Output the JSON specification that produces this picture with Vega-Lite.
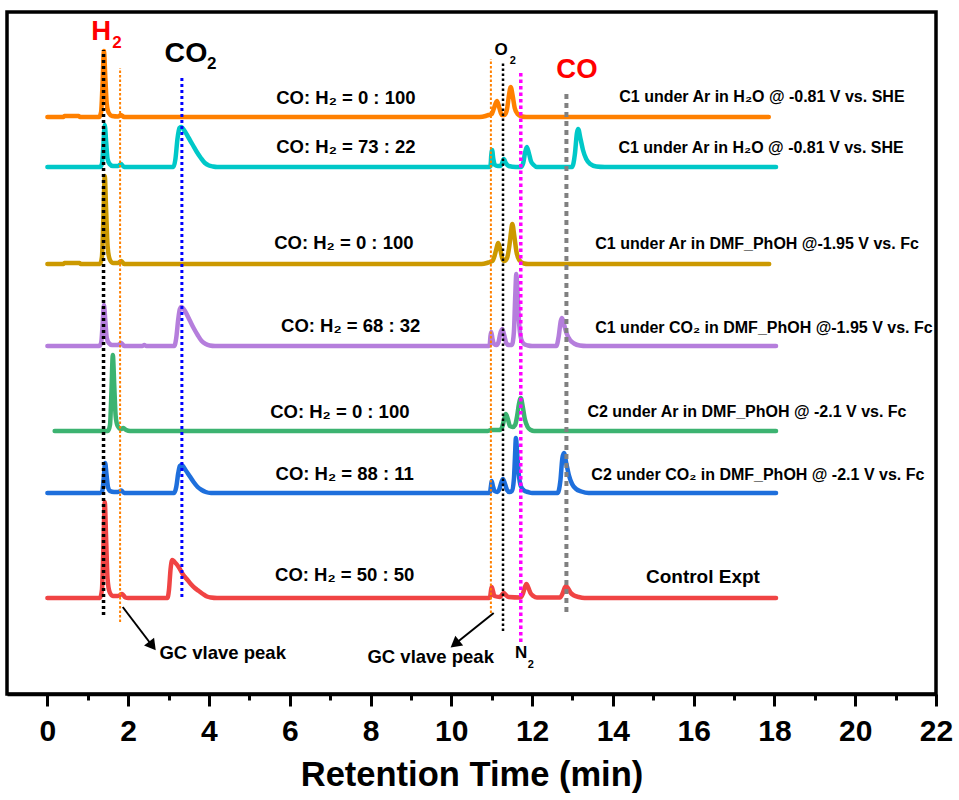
{
  "$schema": "https://vega.github.io/schema/vega-lite/v6.json",
  "width": 929,
  "height": 682,
  "padding": {"left": 7, "top": 12, "right": 12, "bottom": 4},
  "background": "white",
  "config": {
    "font": "Liberation Sans",
    "view": {"stroke": "black", "strokeWidth": 3.5}
  },
  "datasets": {
    "traces": [
      {"series": "orange", "t": 0, "v": 577}, {"series": "orange", "t": 0.4, "v": 577}, {"series": "orange", "t": 0.42, "v": 578}, {"series": "orange", "t": 0.78, "v": 578}, {"series": "orange", "t": 0.8, "v": 577},
      {"series": "orange", "t": 1.28, "v": 577}, {"series": "orange", "t": 1.33, "v": 582}, {"series": "orange", "t": 1.365, "v": 610}, {"series": "orange", "t": 1.4, "v": 643}, {"series": "orange", "t": 1.435, "v": 616}, {"series": "orange", "t": 1.47, "v": 590}, {"series": "orange", "t": 1.52, "v": 581}, {"series": "orange", "t": 1.6, "v": 578}, {"series": "orange", "t": 1.75, "v": 577.5}, {"series": "orange", "t": 1.82, "v": 579}, {"series": "orange", "t": 1.9, "v": 577},
      {"series": "orange", "t": 10.7, "v": 577}, {"series": "orange", "t": 10.85, "v": 578}, {"series": "orange", "t": 10.92, "v": 579}, {"series": "orange", "t": 11.0, "v": 580}, {"series": "orange", "t": 11.05, "v": 585}, {"series": "orange", "t": 11.13, "v": 593}, {"series": "orange", "t": 11.19, "v": 586}, {"series": "orange", "t": 11.25, "v": 579}, {"series": "orange", "t": 11.32, "v": 579}, {"series": "orange", "t": 11.38, "v": 585}, {"series": "orange", "t": 11.425, "v": 598}, {"series": "orange", "t": 11.47, "v": 607}, {"series": "orange", "t": 11.52, "v": 598}, {"series": "orange", "t": 11.57, "v": 586}, {"series": "orange", "t": 11.64, "v": 580}, {"series": "orange", "t": 11.75, "v": 577.5}, {"series": "orange", "t": 11.85, "v": 577}, {"series": "orange", "t": 17.86, "v": 577},

      {"series": "cyan", "t": 0, "v": 527}, {"series": "cyan", "t": 1.3, "v": 527}, {"series": "cyan", "t": 1.35, "v": 530}, {"series": "cyan", "t": 1.385, "v": 548}, {"series": "cyan", "t": 1.42, "v": 569}, {"series": "cyan", "t": 1.455, "v": 552}, {"series": "cyan", "t": 1.49, "v": 535}, {"series": "cyan", "t": 1.54, "v": 530}, {"series": "cyan", "t": 1.62, "v": 528}, {"series": "cyan", "t": 1.75, "v": 528}, {"series": "cyan", "t": 1.82, "v": 530}, {"series": "cyan", "t": 1.9, "v": 527},
      {"series": "cyan", "t": 3.12, "v": 527}, {"series": "cyan", "t": 3.17, "v": 535}, {"series": "cyan", "t": 3.22, "v": 555}, {"series": "cyan", "t": 3.27, "v": 566}, {"series": "cyan", "t": 3.31, "v": 567}, {"series": "cyan", "t": 3.4, "v": 563}, {"series": "cyan", "t": 3.5, "v": 556}, {"series": "cyan", "t": 3.6, "v": 549}, {"series": "cyan", "t": 3.7, "v": 542}, {"series": "cyan", "t": 3.8, "v": 536}, {"series": "cyan", "t": 3.9, "v": 531}, {"series": "cyan", "t": 4.0, "v": 528.5}, {"series": "cyan", "t": 4.1, "v": 527.5}, {"series": "cyan", "t": 4.2, "v": 527},
      {"series": "cyan", "t": 10.94, "v": 527}, {"series": "cyan", "t": 10.97, "v": 528}, {"series": "cyan", "t": 10.99, "v": 539}, {"series": "cyan", "t": 11.01, "v": 544}, {"series": "cyan", "t": 11.04, "v": 535}, {"series": "cyan", "t": 11.08, "v": 529}, {"series": "cyan", "t": 11.15, "v": 528}, {"series": "cyan", "t": 11.22, "v": 528}, {"series": "cyan", "t": 11.26, "v": 531}, {"series": "cyan", "t": 11.3, "v": 535}, {"series": "cyan", "t": 11.35, "v": 531}, {"series": "cyan", "t": 11.42, "v": 528}, {"series": "cyan", "t": 11.6, "v": 527},
      {"series": "cyan", "t": 11.72, "v": 527}, {"series": "cyan", "t": 11.78, "v": 531}, {"series": "cyan", "t": 11.825, "v": 541}, {"series": "cyan", "t": 11.87, "v": 547}, {"series": "cyan", "t": 11.92, "v": 541}, {"series": "cyan", "t": 11.97, "v": 533}, {"series": "cyan", "t": 12.04, "v": 529}, {"series": "cyan", "t": 12.12, "v": 527},
      {"series": "cyan", "t": 12.99, "v": 527}, {"series": "cyan", "t": 13.06, "v": 540}, {"series": "cyan", "t": 13.11, "v": 561}, {"series": "cyan", "t": 13.14, "v": 565}, {"series": "cyan", "t": 13.2, "v": 555}, {"series": "cyan", "t": 13.26, "v": 544}, {"series": "cyan", "t": 13.34, "v": 535}, {"series": "cyan", "t": 13.44, "v": 530}, {"series": "cyan", "t": 13.59, "v": 527.5}, {"series": "cyan", "t": 13.8, "v": 527}, {"series": "cyan", "t": 18.04, "v": 527},

      {"series": "gold", "t": 0, "v": 430}, {"series": "gold", "t": 0.4, "v": 430}, {"series": "gold", "t": 0.42, "v": 431}, {"series": "gold", "t": 0.8, "v": 431}, {"series": "gold", "t": 0.82, "v": 430},
      {"series": "gold", "t": 1.3, "v": 430}, {"series": "gold", "t": 1.35, "v": 437}, {"series": "gold", "t": 1.385, "v": 474}, {"series": "gold", "t": 1.42, "v": 518}, {"series": "gold", "t": 1.455, "v": 483}, {"series": "gold", "t": 1.49, "v": 448}, {"series": "gold", "t": 1.54, "v": 435}, {"series": "gold", "t": 1.62, "v": 431}, {"series": "gold", "t": 1.75, "v": 431}, {"series": "gold", "t": 1.83, "v": 433}, {"series": "gold", "t": 1.9, "v": 430},
      {"series": "gold", "t": 10.75, "v": 430}, {"series": "gold", "t": 10.88, "v": 431}, {"series": "gold", "t": 10.95, "v": 432}, {"series": "gold", "t": 11.02, "v": 433}, {"series": "gold", "t": 11.07, "v": 438}, {"series": "gold", "t": 11.115, "v": 445}, {"series": "gold", "t": 11.16, "v": 451}, {"series": "gold", "t": 11.21, "v": 445}, {"series": "gold", "t": 11.26, "v": 436}, {"series": "gold", "t": 11.31, "v": 433}, {"series": "gold", "t": 11.38, "v": 436}, {"series": "gold", "t": 11.44, "v": 449}, {"series": "gold", "t": 11.475, "v": 461}, {"series": "gold", "t": 11.51, "v": 470}, {"series": "gold", "t": 11.56, "v": 458}, {"series": "gold", "t": 11.61, "v": 443}, {"series": "gold", "t": 11.68, "v": 434}, {"series": "gold", "t": 11.8, "v": 430.5}, {"series": "gold", "t": 11.9, "v": 430}, {"series": "gold", "t": 17.87, "v": 430},

      {"series": "purple", "t": 0, "v": 348}, {"series": "purple", "t": 1.28, "v": 348}, {"series": "purple", "t": 1.33, "v": 351}, {"series": "purple", "t": 1.365, "v": 368}, {"series": "purple", "t": 1.4, "v": 389}, {"series": "purple", "t": 1.435, "v": 373}, {"series": "purple", "t": 1.47, "v": 356}, {"series": "purple", "t": 1.52, "v": 351}, {"series": "purple", "t": 1.6, "v": 349}, {"series": "purple", "t": 1.75, "v": 349}, {"series": "purple", "t": 1.83, "v": 351}, {"series": "purple", "t": 1.9, "v": 348}, {"series": "purple", "t": 2.35, "v": 348}, {"series": "purple", "t": 2.4, "v": 349}, {"series": "purple", "t": 2.45, "v": 348},
      {"series": "purple", "t": 3.14, "v": 348}, {"series": "purple", "t": 3.19, "v": 356}, {"series": "purple", "t": 3.24, "v": 375}, {"series": "purple", "t": 3.28, "v": 385}, {"series": "purple", "t": 3.32, "v": 387}, {"series": "purple", "t": 3.42, "v": 382}, {"series": "purple", "t": 3.52, "v": 374}, {"series": "purple", "t": 3.62, "v": 366}, {"series": "purple", "t": 3.72, "v": 359}, {"series": "purple", "t": 3.82, "v": 353}, {"series": "purple", "t": 3.92, "v": 350}, {"series": "purple", "t": 4.02, "v": 348.5}, {"series": "purple", "t": 4.15, "v": 348},
      {"series": "purple", "t": 10.93, "v": 348}, {"series": "purple", "t": 10.95, "v": 349}, {"series": "purple", "t": 10.97, "v": 358}, {"series": "purple", "t": 10.99, "v": 362}, {"series": "purple", "t": 11.02, "v": 355}, {"series": "purple", "t": 11.06, "v": 350}, {"series": "purple", "t": 11.12, "v": 349}, {"series": "purple", "t": 11.17, "v": 352}, {"series": "purple", "t": 11.21, "v": 360}, {"series": "purple", "t": 11.26, "v": 365}, {"series": "purple", "t": 11.31, "v": 359}, {"series": "purple", "t": 11.36, "v": 351}, {"series": "purple", "t": 11.42, "v": 349}, {"series": "purple", "t": 11.5, "v": 349}, {"series": "purple", "t": 11.55, "v": 362}, {"series": "purple", "t": 11.58, "v": 395}, {"series": "purple", "t": 11.61, "v": 420}, {"series": "purple", "t": 11.64, "v": 400}, {"series": "purple", "t": 11.68, "v": 370}, {"series": "purple", "t": 11.73, "v": 355}, {"series": "purple", "t": 11.8, "v": 350}, {"series": "purple", "t": 11.9, "v": 348.5}, {"series": "purple", "t": 12.0, "v": 348},
      {"series": "purple", "t": 12.6, "v": 348}, {"series": "purple", "t": 12.66, "v": 358}, {"series": "purple", "t": 12.71, "v": 373}, {"series": "purple", "t": 12.74, "v": 376}, {"series": "purple", "t": 12.8, "v": 368}, {"series": "purple", "t": 12.86, "v": 360}, {"series": "purple", "t": 12.94, "v": 354}, {"series": "purple", "t": 13.04, "v": 350.5}, {"series": "purple", "t": 13.18, "v": 348.5}, {"series": "purple", "t": 13.35, "v": 348}, {"series": "purple", "t": 18.04, "v": 348},

      {"series": "green", "t": 0.18, "v": 263}, {"series": "green", "t": 1.5, "v": 263}, {"series": "green", "t": 1.55, "v": 269}, {"series": "green", "t": 1.585, "v": 301}, {"series": "green", "t": 1.62, "v": 339}, {"series": "green", "t": 1.655, "v": 309}, {"series": "green", "t": 1.69, "v": 278}, {"series": "green", "t": 1.74, "v": 268}, {"series": "green", "t": 1.82, "v": 265}, {"series": "green", "t": 1.88, "v": 266}, {"series": "green", "t": 1.95, "v": 264}, {"series": "green", "t": 2.05, "v": 263},
      {"series": "green", "t": 10.9, "v": 263}, {"series": "green", "t": 10.98, "v": 264}, {"series": "green", "t": 11.2, "v": 264}, {"series": "green", "t": 11.26, "v": 267}, {"series": "green", "t": 11.305, "v": 274}, {"series": "green", "t": 11.35, "v": 280}, {"series": "green", "t": 11.4, "v": 275}, {"series": "green", "t": 11.45, "v": 268}, {"series": "green", "t": 11.52, "v": 267}, {"series": "green", "t": 11.58, "v": 269}, {"series": "green", "t": 11.63, "v": 278}, {"series": "green", "t": 11.675, "v": 290}, {"series": "green", "t": 11.72, "v": 296}, {"series": "green", "t": 11.77, "v": 287}, {"series": "green", "t": 11.82, "v": 275}, {"series": "green", "t": 11.89, "v": 267}, {"series": "green", "t": 11.97, "v": 264}, {"series": "green", "t": 12.05, "v": 263}, {"series": "green", "t": 18.04, "v": 263},

      {"series": "blue", "t": 0, "v": 201}, {"series": "blue", "t": 1.31, "v": 201}, {"series": "blue", "t": 1.36, "v": 203}, {"series": "blue", "t": 1.395, "v": 216}, {"series": "blue", "t": 1.43, "v": 231}, {"series": "blue", "t": 1.465, "v": 219}, {"series": "blue", "t": 1.5, "v": 207}, {"series": "blue", "t": 1.55, "v": 203}, {"series": "blue", "t": 1.65, "v": 202}, {"series": "blue", "t": 1.75, "v": 202}, {"series": "blue", "t": 1.83, "v": 203.5}, {"series": "blue", "t": 1.9, "v": 201},
      {"series": "blue", "t": 3.14, "v": 201}, {"series": "blue", "t": 3.19, "v": 207}, {"series": "blue", "t": 3.24, "v": 221}, {"series": "blue", "t": 3.28, "v": 228}, {"series": "blue", "t": 3.32, "v": 229}, {"series": "blue", "t": 3.42, "v": 224}, {"series": "blue", "t": 3.52, "v": 218}, {"series": "blue", "t": 3.62, "v": 212}, {"series": "blue", "t": 3.72, "v": 207}, {"series": "blue", "t": 3.82, "v": 204}, {"series": "blue", "t": 3.92, "v": 202}, {"series": "blue", "t": 4.05, "v": 201},
      {"series": "blue", "t": 10.94, "v": 201}, {"series": "blue", "t": 10.96, "v": 202}, {"series": "blue", "t": 10.985, "v": 209}, {"series": "blue", "t": 11.0, "v": 213}, {"series": "blue", "t": 11.03, "v": 208}, {"series": "blue", "t": 11.07, "v": 203}, {"series": "blue", "t": 11.14, "v": 202}, {"series": "blue", "t": 11.19, "v": 205}, {"series": "blue", "t": 11.235, "v": 211}, {"series": "blue", "t": 11.28, "v": 215}, {"series": "blue", "t": 11.33, "v": 210}, {"series": "blue", "t": 11.38, "v": 204}, {"series": "blue", "t": 11.44, "v": 202}, {"series": "blue", "t": 11.5, "v": 203}, {"series": "blue", "t": 11.55, "v": 215}, {"series": "blue", "t": 11.575, "v": 236}, {"series": "blue", "t": 11.6, "v": 256}, {"series": "blue", "t": 11.63, "v": 241}, {"series": "blue", "t": 11.67, "v": 220}, {"series": "blue", "t": 11.72, "v": 208}, {"series": "blue", "t": 11.8, "v": 203.5}, {"series": "blue", "t": 11.9, "v": 202}, {"series": "blue", "t": 12.0, "v": 201},
      {"series": "blue", "t": 12.63, "v": 201}, {"series": "blue", "t": 12.7, "v": 213}, {"series": "blue", "t": 12.75, "v": 236}, {"series": "blue", "t": 12.79, "v": 241}, {"series": "blue", "t": 12.85, "v": 230}, {"series": "blue", "t": 12.91, "v": 219}, {"series": "blue", "t": 12.99, "v": 210}, {"series": "blue", "t": 13.09, "v": 205}, {"series": "blue", "t": 13.22, "v": 202.5}, {"series": "blue", "t": 13.4, "v": 201}, {"series": "blue", "t": 18.04, "v": 201},

      {"series": "red", "t": 0, "v": 96}, {"series": "red", "t": 1.3, "v": 96}, {"series": "red", "t": 1.35, "v": 104}, {"series": "red", "t": 1.385, "v": 144}, {"series": "red", "t": 1.42, "v": 192}, {"series": "red", "t": 1.455, "v": 154}, {"series": "red", "t": 1.49, "v": 115}, {"series": "red", "t": 1.54, "v": 102}, {"series": "red", "t": 1.62, "v": 98}, {"series": "red", "t": 1.75, "v": 98}, {"series": "red", "t": 1.85, "v": 100}, {"series": "red", "t": 1.93, "v": 96.5}, {"series": "red", "t": 2.0, "v": 96},
      {"series": "red", "t": 2.97, "v": 96}, {"series": "red", "t": 3.01, "v": 104}, {"series": "red", "t": 3.05, "v": 125}, {"series": "red", "t": 3.09, "v": 134}, {"series": "red", "t": 3.15, "v": 132}, {"series": "red", "t": 3.25, "v": 127}, {"series": "red", "t": 3.35, "v": 120}, {"series": "red", "t": 3.45, "v": 115}, {"series": "red", "t": 3.55, "v": 110}, {"series": "red", "t": 3.65, "v": 106}, {"series": "red", "t": 3.75, "v": 103}, {"series": "red", "t": 3.85, "v": 100}, {"series": "red", "t": 3.95, "v": 97.5}, {"series": "red", "t": 4.05, "v": 96.5}, {"series": "red", "t": 4.2, "v": 96},
      {"series": "red", "t": 10.94, "v": 96}, {"series": "red", "t": 10.96, "v": 97}, {"series": "red", "t": 10.985, "v": 104}, {"series": "red", "t": 11.0, "v": 107}, {"series": "red", "t": 11.03, "v": 103}, {"series": "red", "t": 11.07, "v": 98}, {"series": "red", "t": 11.2, "v": 97}, {"series": "red", "t": 11.25, "v": 99}, {"series": "red", "t": 11.3, "v": 101}, {"series": "red", "t": 11.35, "v": 99}, {"series": "red", "t": 11.42, "v": 97}, {"series": "red", "t": 11.71, "v": 96.5}, {"series": "red", "t": 11.77, "v": 100}, {"series": "red", "t": 11.815, "v": 106}, {"series": "red", "t": 11.86, "v": 110}, {"series": "red", "t": 11.91, "v": 106}, {"series": "red", "t": 11.96, "v": 101}, {"series": "red", "t": 12.03, "v": 98}, {"series": "red", "t": 12.12, "v": 96.5},
      {"series": "red", "t": 12.69, "v": 96.5}, {"series": "red", "t": 12.76, "v": 101}, {"series": "red", "t": 12.81, "v": 106.5}, {"series": "red", "t": 12.84, "v": 108}, {"series": "red", "t": 12.9, "v": 105}, {"series": "red", "t": 12.96, "v": 101}, {"series": "red", "t": 13.04, "v": 98.5}, {"series": "red", "t": 13.15, "v": 97}, {"series": "red", "t": 13.3, "v": 96}, {"series": "red", "t": 18.04, "v": 96}
    ],
    "vlines": [
      {"name": "H2", "t": 1.39, "y1": 79, "y2": 644},
      {"name": "valve1", "t": 1.8, "y1": 72, "y2": 626},
      {"name": "CO2", "t": 3.33, "y1": 97, "y2": 618},
      {"name": "valve2", "t": 10.98, "y1": 81, "y2": 635},
      {"name": "O2", "t": 11.28, "y1": 63, "y2": 633},
      {"name": "N2", "t": 11.72, "y1": 52, "y2": 624},
      {"name": "CO", "t": 12.85, "y1": 82, "y2": 601}
    ],
    "labels": [
      {"kind": "ratio", "text": "CO: H₂ = 0 : 100", "t": 7.39, "v": 596},
      {"kind": "ratio", "text": "CO: H₂ = 73 : 22", "t": 7.39, "v": 547},
      {"kind": "ratio", "text": "CO: H₂ = 0 : 100", "t": 7.34, "v": 451},
      {"kind": "ratio", "text": "CO: H₂ =  68 : 32", "t": 7.51, "v": 368},
      {"kind": "ratio", "text": "CO: H₂ = 0 : 100", "t": 7.24, "v": 282},
      {"kind": "ratio", "text": "CO: H₂ = 88 : 11", "t": 7.36, "v": 220},
      {"kind": "ratio", "text": "CO: H₂ = 50 : 50", "t": 7.36, "v": 119},
      {"kind": "cond", "text": "C1 under Ar in H₂O @ -0.81 V vs. SHE", "t": 17.69, "v": 597},
      {"kind": "cond", "text": "C1 under Ar in H₂O @ -0.81 V vs. SHE", "t": 17.67, "v": 546},
      {"kind": "cond", "text": "C1 under Ar in DMF_PhOH @-1.95 V vs. Fc", "t": 17.57, "v": 450},
      {"kind": "cond", "text": "C1 under CO₂ in DMF_PhOH @-1.95 V vs. Fc", "t": 17.74, "v": 366},
      {"kind": "cond", "text": "C2 under Ar in DMF_PhOH @ -2.1 V vs. Fc", "t": 17.32, "v": 282},
      {"kind": "cond", "text": "C2 under CO₂ in DMF_PhOH @ -2.1 V vs. Fc", "t": 17.59, "v": 219},
      {"kind": "ctrl", "text": "Control Expt", "t": 16.23, "v": 117},
      {"kind": "gc", "text": "GC vlave peak", "t": 4.34, "v": 41},
      {"kind": "gc", "text": "GC vlave peak", "t": 9.49, "v": 37},
      {"kind": "bigred", "text": "H", "t": 1.33, "v": 662},
      {"kind": "bigred", "text": "CO", "t": 13.11, "v": 624},
      {"kind": "subred", "text": "2", "t": 1.72, "v": 651},
      {"kind": "bigblack", "text": "CO", "t": 3.43, "v": 641},
      {"kind": "subblack", "text": "2", "t": 4.07, "v": 630},
      {"kind": "mid", "text": "O", "t": 11.23, "v": 644},
      {"kind": "mid", "text": "N", "t": 11.73, "v": 41},
      {"kind": "midsub", "text": "2", "t": 11.52, "v": 633},
      {"kind": "midsub", "text": "2", "t": 11.97, "v": 29}
    ],
    "arrows": [
      {"id": "left", "t1": 1.865, "v1": 87, "t2": 2.6, "v2": 48},
      {"id": "right", "t1": 11.05, "v1": 81, "t2": 10.09, "v2": 50}
    ]
  },
  "resolve": {"scale": {"color": "independent", "strokeDash": "independent", "strokeWidth": "independent"}},
  "encoding": {
    "x": {
      "field": "t", "type": "quantitative",
      "scale": {"domain": [-1, 22], "nice": false, "zero": false},
      "axis": {
        "values": [0,1,2,3,4,5,6,7,8,9,10,11,12,13,14,15,16,17,18,19,20,21,22],
        "labelExpr": "datum.value % 2 === 0 ? datum.label : ''",
        "tickSize": {"condition": {"test": "datum.value % 2 === 0", "value": 12}, "value": 6},
        "tickWidth": 3, "tickColor": "black",
        "domainWidth": 3.5, "domainColor": "black",
        "grid": false,
        "labelFont": "Liberation Sans", "labelFontWeight": "bold", "labelFontSize": 30, "labelColor": "black",
        "labelPadding": 10, "labelOverlap": false, "labelFlush": false,
        "title": "Retention Time (min)",
        "titleFont": "Liberation Sans", "titleFontWeight": "bold", "titleFontSize": 34.5, "titleColor": "black",
        "titlePadding": 12
      }
    }
  },
  "layer": [
    {
      "data": {"name": "traces"},
      "mark": {"type": "line", "strokeWidth": 4.5, "interpolate": "monotone", "strokeCap": "round", "strokeJoin": "round"},
      "encoding": {
        "y": {"field": "v", "type": "quantitative", "scale": {"domain": [0, 682], "nice": false, "zero": false}, "axis": null},
        "color": {"field": "series", "type": "nominal", "legend": null,
          "scale": {"domain": ["orange", "cyan", "gold", "purple", "green", "blue", "red"],
                    "range": ["#FF8000", "#00C8C8", "#CC9900", "#B57EDC", "#3CB371", "#1E6FDC", "#F04444"]}},
        "detail": {"field": "series"}
      }
    },
    {
      "data": {"name": "vlines"},
      "mark": {"type": "rule"},
      "encoding": {
        "y": {"field": "y1", "type": "quantitative"},
        "y2": {"field": "y2"},
        "color": {"field": "name", "type": "nominal", "legend": null,
          "scale": {"domain": ["H2", "valve1", "CO2", "valve2", "O2", "N2", "CO"],
                    "range": ["#000000", "#FF8000", "#0000FF", "#FF8000", "#000000", "#FF00FF", "#808080"]}},
        "strokeDash": {"field": "name", "type": "nominal", "legend": null,
          "scale": {"type": "ordinal", "domain": ["H2", "valve1", "CO2", "valve2", "O2", "N2", "CO"],
                    "range": [[3,3], [2.5,2], [3,3], [2.5,2], [2.5,2.5], [3.5,3], [5,4]]}},
        "strokeWidth": {"field": "name", "type": "nominal", "legend": null,
          "scale": {"type": "ordinal", "domain": ["H2", "valve1", "CO2", "valve2", "O2", "N2", "CO"],
                    "range": [3.5, 2, 3, 2, 2.5, 3.5, 4]}}
      }
    },
    {
      "data": {"name": "arrows"},
      "mark": {"type": "rule", "color": "black", "strokeWidth": 2},
      "encoding": {
        "x": {"field": "t1", "type": "quantitative"},
        "y": {"field": "v1", "type": "quantitative"},
        "x2": {"field": "t2"},
        "y2": {"field": "v2"}
      }
    },
    {
      "data": {"name": "arrows"},
      "transform": [{"filter": "datum.id === 'left'"}],
      "mark": {"type": "point", "shape": "triangle-up", "filled": true, "color": "black", "size": 160, "angle": 142.5, "opacity": 1},
      "encoding": {
        "x": {"field": "t2", "type": "quantitative"},
        "y": {"field": "v2", "type": "quantitative"}
      }
    },
    {
      "data": {"name": "arrows"},
      "transform": [{"filter": "datum.id === 'right'"}],
      "mark": {"type": "point", "shape": "triangle-up", "filled": true, "color": "black", "size": 160, "angle": 231.7, "opacity": 1},
      "encoding": {
        "x": {"field": "t2", "type": "quantitative"},
        "y": {"field": "v2", "type": "quantitative"}
      }
    },
    {
      "data": {"name": "labels"},
      "transform": [{"filter": "datum.kind === 'ratio'"}],
      "mark": {"type": "text", "fontSize": 18.5, "fontWeight": "bold", "color": "black", "align": "center", "baseline": "middle"},
      "encoding": {"y": {"field": "v", "type": "quantitative"}, "text": {"field": "text"}}
    },
    {
      "data": {"name": "labels"},
      "transform": [{"filter": "datum.kind === 'cond'"}],
      "mark": {"type": "text", "fontSize": 16, "fontWeight": "bold", "color": "black", "align": "center", "baseline": "middle"},
      "encoding": {"y": {"field": "v", "type": "quantitative"}, "text": {"field": "text"}}
    },
    {
      "data": {"name": "labels"},
      "transform": [{"filter": "datum.kind === 'ctrl'"}],
      "mark": {"type": "text", "fontSize": 19, "fontWeight": "bold", "color": "black", "align": "center", "baseline": "middle"},
      "encoding": {"y": {"field": "v", "type": "quantitative"}, "text": {"field": "text"}}
    },
    {
      "data": {"name": "labels"},
      "transform": [{"filter": "datum.kind === 'gc'"}],
      "mark": {"type": "text", "fontSize": 18.5, "fontWeight": "bold", "color": "black", "align": "center", "baseline": "middle"},
      "encoding": {"y": {"field": "v", "type": "quantitative"}, "text": {"field": "text"}}
    },
    {
      "data": {"name": "labels"},
      "transform": [{"filter": "datum.kind === 'bigred'"}],
      "mark": {"type": "text", "fontSize": 27.5, "fontWeight": "bold", "color": "#FF0000", "align": "center", "baseline": "middle"},
      "encoding": {"y": {"field": "v", "type": "quantitative"}, "text": {"field": "text"}}
    },
    {
      "data": {"name": "labels"},
      "transform": [{"filter": "datum.kind === 'subred'"}],
      "mark": {"type": "text", "fontSize": 17, "fontWeight": "bold", "color": "#FF0000", "align": "center", "baseline": "middle"},
      "encoding": {"y": {"field": "v", "type": "quantitative"}, "text": {"field": "text"}}
    },
    {
      "data": {"name": "labels"},
      "transform": [{"filter": "datum.kind === 'bigblack'"}],
      "mark": {"type": "text", "fontSize": 28.5, "fontWeight": "bold", "color": "black", "align": "center", "baseline": "middle"},
      "encoding": {"y": {"field": "v", "type": "quantitative"}, "text": {"field": "text"}}
    },
    {
      "data": {"name": "labels"},
      "transform": [{"filter": "datum.kind === 'subblack'"}],
      "mark": {"type": "text", "fontSize": 17, "fontWeight": "bold", "color": "black", "align": "center", "baseline": "middle"},
      "encoding": {"y": {"field": "v", "type": "quantitative"}, "text": {"field": "text"}}
    },
    {
      "data": {"name": "labels"},
      "transform": [{"filter": "datum.kind === 'mid'"}],
      "mark": {"type": "text", "fontSize": 17, "fontWeight": "bold", "color": "black", "align": "center", "baseline": "middle"},
      "encoding": {"y": {"field": "v", "type": "quantitative"}, "text": {"field": "text"}}
    },
    {
      "data": {"name": "labels"},
      "transform": [{"filter": "datum.kind === 'midsub'"}],
      "mark": {"type": "text", "fontSize": 11, "fontWeight": "bold", "color": "black", "align": "center", "baseline": "middle"},
      "encoding": {"y": {"field": "v", "type": "quantitative"}, "text": {"field": "text"}}
    }
  ]
}
